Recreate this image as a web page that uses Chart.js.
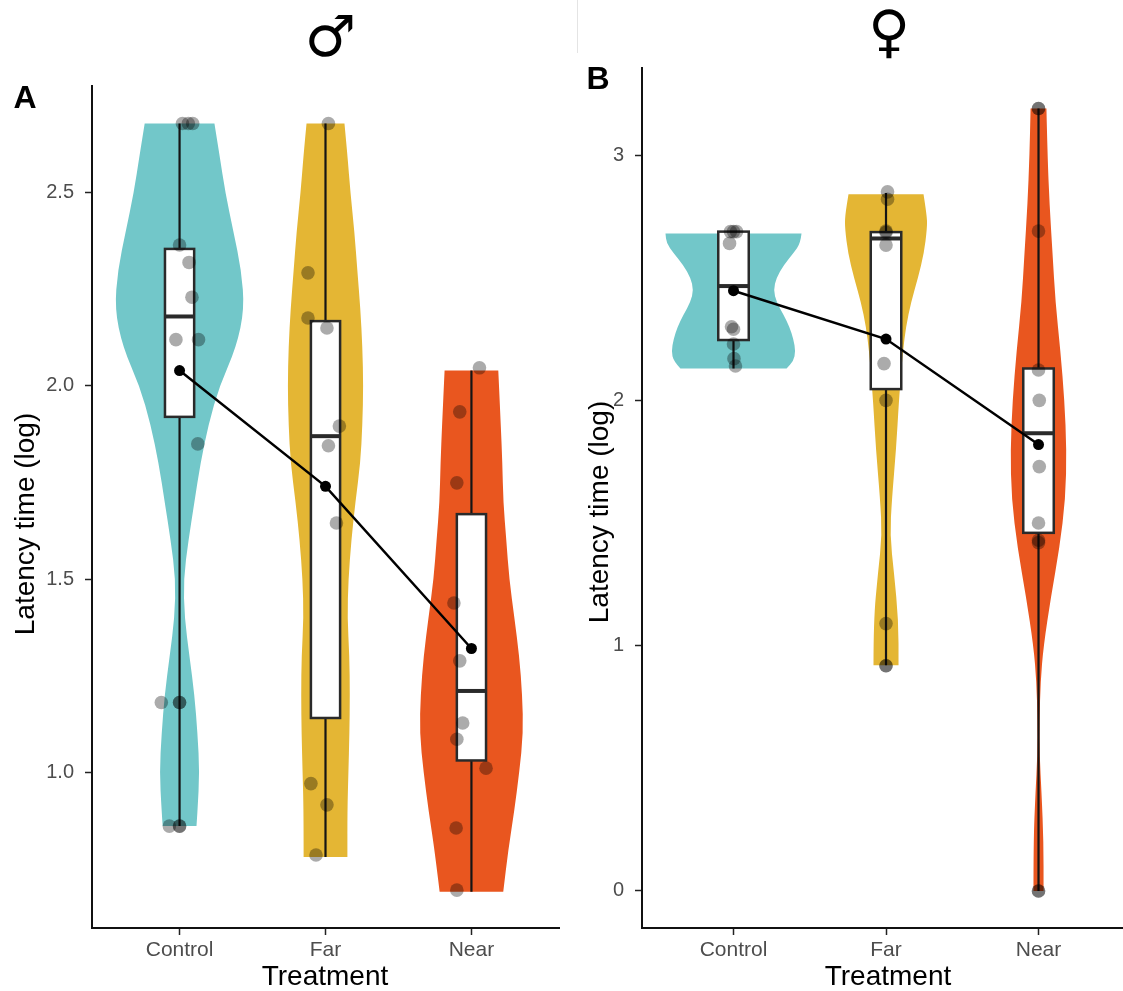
<!DOCTYPE html>
<html>
<head>
<meta charset="utf-8">
<script src="https://cdn.jsdelivr.net/npm/chart.js@4.4.0/dist/chart.umd.min.js"></script>
<style>
  html, body { margin: 0; padding: 0; background: #fff; overflow: hidden; }
  #wrap { position: relative; width: 1123px; height: 991px; }
  .panel { position: absolute; top: 0; height: 991px; }
  #sep { position: absolute; left: 577px; top: 0; width: 1px; height: 53px; background: #e4e4e4; }
</style>
</head>
<body>
<div id="wrap">
  <div class="panel" style="left:0;width:577px"><canvas id="cvMale" width="577" height="991"></canvas></div>
  <div class="panel" style="left:577px;width:546px"><canvas id="cvFemale" width="546" height="991"></canvas></div>
  <div id="sep"></div>
</div>
<script>
const categories = ['Control', 'Far', 'Near'];
const fillColors = ['#72C7C9', '#E4B634', '#E9561F'];

// ---- panel A (males) ----
const maleTicks = [1.0, 1.5, 2.0, 2.5];
const maleRange = [0.596, 2.777];
const maleLow = [0.86, 0.78, 0.69];
const maleQ1 = [1.92, 1.14, 1.03];
const maleMedian = [2.18, 1.87, 1.21];
const maleQ3 = [2.355, 2.168, 1.668];
const maleHigh = [2.68, 2.68, 2.04];
const maleMeans = [2.04, 1.74, 1.32];
// [jitter, value]
const maleControlPts = [[0.02, 2.68], [0.06, 2.68], [0.09, 2.68], [0, 2.365], [0.065, 2.32], [0.085, 2.23], [-0.025, 2.12], [0.13, 2.12], [0.125, 1.85], [-0.125, 1.18], [0, 1.18], [0, 1.18], [-0.07, 0.86], [0, 0.86], [0, 0.86]];
const maleFarPts = [[0.02, 2.68], [-0.12, 2.293], [-0.12, 2.176], [0.01, 2.15], [0.095, 1.896], [0.02, 1.845], [0.075, 1.645], [-0.10, 0.97], [0.01, 0.915], [-0.065, 0.785]];
const maleNearPts = [[0.055, 2.047], [-0.08, 1.933], [-0.10, 1.749], [-0.12, 1.438], [-0.08, 1.288], [-0.06, 1.127], [-0.10, 1.085], [0.10, 1.01], [-0.105, 0.855], [-0.10, 0.694]];
// violin outline: [value, half width in category units]
const maleControlViolin = [[2.68, .239], [2.6, .273], [2.5, .314], [2.4, .369], [2.3, .423], [2.2, .444], [2.1, .389], [2.0, .273], [1.9, .198], [1.8, .143], [1.7, .102], [1.6, .061], [1.5, .027], [1.4, .034], [1.3, .068], [1.2, .102], [1.1, .123], [1.0, .137], [0.9, .123], [0.86, .116]];
const maleFarViolin = [[2.68, .130], [2.6, .150], [2.5, .171], [2.4, .198], [2.3, .218], [2.2, .239], [2.1, .253], [2.0, .259], [1.9, .253], [1.8, .239], [1.7, .205], [1.6, .177], [1.5, .157], [1.4, .150], [1.3, .164], [1.2, .167], [1.1, .164], [1.0, .157], [0.9, .150], [0.78, .150]];
const maleNearViolin = [[2.04, .184], [1.9, .201], [1.8, .212], [1.7, .218], [1.6, .239], [1.5, .259], [1.4, .294], [1.3, .328], [1.2, .348], [1.1, .355], [1.0, .328], [0.9, .294], [0.8, .253], [0.69, .218]];

// ---- panel B (females) ----
const femaleTicks = [0, 1, 2, 3];
const femaleRange = [-0.151, 3.355];
const femaleLow = [2.13, 0.92, 0.0];
const femaleQ1 = [2.246, 2.046, 1.46];
const femaleMedian = [2.466, 2.66, 1.866];
const femaleQ3 = [2.688, 2.686, 2.13];
const femaleHigh = [2.688, 2.845, 3.19];
const femaleMeans = [2.447, 2.25, 1.82];
const femaleControlPts = [[-0.02, 2.688], [0, 2.688], [0.02, 2.688], [-0.026, 2.64], [-0.013, 2.30], [0, 2.29], [0, 2.23], [0.003, 2.17], [0.013, 2.14]];
const femaleFarPts = [[0.01, 2.85], [0.01, 2.82], [0, 2.69], [0, 2.685], [0, 2.633], [-0.013, 2.15], [0, 2.0], [0, 1.09], [0, 0.918], [0, 0.918]];
const femaleNearPts = [[0, 3.19], [0, 3.19], [0, 2.69], [0, 2.124], [0.005, 2.0], [0.005, 1.73], [0, 1.50], [0, 1.43], [0, 1.42], [0, 0.0], [0, 0.0]];
const femaleControlViolin = [[2.68, .446], [2.64, .439], [2.6, .393], [2.55, .328], [2.5, .282], [2.45, .262], [2.4, .282], [2.35, .328], [2.3, .367], [2.25, .393], [2.2, .407], [2.16, .393], [2.13, .348]];
const femaleFarViolin = [[2.84, .246], [2.75, .269], [2.7, .269], [2.6, .249], [2.5, .210], [2.4, .164], [2.3, .131], [2.2, .111], [2.1, .098], [2.0, .085], [1.8, .066], [1.6, .039], [1.45, .026], [1.3, .052], [1.1, .082], [0.92, .082]];
const femaleNearViolin = [[3.19, .052], [3.0, .059], [2.8, .072], [2.6, .092], [2.4, .111], [2.2, .144], [2.0, .170], [1.8, .184], [1.6, .177], [1.4, .138], [1.2, .082], [1.0, .033], [0.85, .013], [0.7, .007], [0.55, .007], [0.4, .020], [0.2, .033], [0.0, .033]];

const FONT = '"Liberation Sans", Arial, Helvetica, sans-serif';
Chart.defaults.font.family = FONT;

function smoothSide(ctx, pts) {
  ctx.lineTo(pts[0].x, pts[0].y);
  for (let i = 1; i < pts.length - 1; i++) {
    const mx = (pts[i].x + pts[i + 1].x) / 2, my = (pts[i].y + pts[i + 1].y) / 2;
    ctx.quadraticCurveTo(pts[i].x, pts[i].y, mx, my);
  }
  ctx.lineTo(pts[pts.length - 1].x, pts[pts.length - 1].y);
}

function drawViolin(ctx, xs, ys, cx, profile, color) {
  const right = profile.map(p => ({ x: xs.getPixelForValue(cx + p[1]), y: ys.getPixelForValue(p[0]) }));
  const left = profile.slice().reverse().map(p => ({ x: xs.getPixelForValue(cx - p[1]), y: ys.getPixelForValue(p[0]) }));
  ctx.beginPath();
  ctx.moveTo(left[left.length - 1].x, left[left.length - 1].y);
  smoothSide(ctx, right);
  smoothSide(ctx, left);
  ctx.closePath();
  ctx.fillStyle = color;
  ctx.fill();
}

function drawBox(ctx, xs, ys, cx, lo, q1, med, q3, hi) {
  const xc = xs.getPixelForValue(cx);
  const xl = xs.getPixelForValue(cx - 0.1), xr = xs.getPixelForValue(cx + 0.1);
  ctx.strokeStyle = '#151515';
  ctx.lineWidth = 2.2;
  ctx.beginPath();
  ctx.moveTo(xc, ys.getPixelForValue(hi)); ctx.lineTo(xc, ys.getPixelForValue(q3));
  ctx.moveTo(xc, ys.getPixelForValue(q1)); ctx.lineTo(xc, ys.getPixelForValue(lo));
  ctx.stroke();
  const yt = ys.getPixelForValue(q3), yb = ys.getPixelForValue(q1);
  ctx.fillStyle = '#fff';
  ctx.fillRect(xl, yt, xr - xl, yb - yt);
  ctx.strokeStyle = '#2a2a2a';
  ctx.lineWidth = 2.5;
  ctx.strokeRect(xl, yt, xr - xl, yb - yt);
  ctx.lineWidth = 4;
  ctx.beginPath();
  const ym = ys.getPixelForValue(med);
  ctx.moveTo(xl, ym); ctx.lineTo(xr, ym);
  ctx.stroke();
}

function makePanel(canvasId, opt) {
  const points = [];
  opt.pts.forEach((grp, i) => grp.forEach(p => points.push({ x: i + 1 + p[0], y: p[1] })));
  const meanLine = opt.means.map((m, i) => ({ x: i + 1, y: m }));

  const extras = {
    id: 'extras_' + canvasId,
    beforeDatasetsDraw(chart) {
      const ctx = chart.ctx, xs = chart.scales.x, ys = chart.scales.y;
      ctx.save();
      opt.violins.forEach((v, i) => drawViolin(ctx, xs, ys, i + 1, v, fillColors[i]));
      categories.forEach((c, i) => drawBox(ctx, xs, ys, i + 1, opt.low[i], opt.q1[i], opt.med[i], opt.q3[i], opt.high[i]));
      ctx.restore();
    },
    afterDraw(chart) {
      const ctx = chart.ctx;
      ctx.save();
      ctx.fillStyle = '#000';
      ctx.textAlign = 'center';
      ctx.textBaseline = 'middle';
      ctx.font = '28px ' + FONT;
      ctx.fillText('Treatment', opt.xTitleX, 977);
      ctx.save();
      ctx.translate(opt.yTitle[0], opt.yTitle[1]);
      ctx.rotate(-Math.PI / 2);
      ctx.fillText('Latency time (log)', 0, 0);
      ctx.restore();
      ctx.font = 'bold 32px ' + FONT;
      ctx.fillText(opt.letter, opt.letterPos[0], opt.letterPos[1]);
      ctx.font = '57px "DejaVu Sans", sans-serif';
      ctx.fillText(opt.symbol, opt.symbolPos[0], opt.symbolPos[1]);
      ctx.restore();
    }
  };

  return new Chart(document.getElementById(canvasId), {
    type: 'scatter',
    data: {
      datasets: [{
        type: 'line',
        data: meanLine,
        borderColor: '#000',
        borderWidth: 2.5,
        pointRadius: 5.5,
        pointBackgroundColor: '#000',
        pointBorderWidth: 0,
        order: 1
      }, {
        data: points,
        pointRadius: 6.8,
        pointBackgroundColor: 'rgba(0,0,0,0.33)',
        pointBorderWidth: 0,
        order: 2
      }]
    },
    options: {
      responsive: false,
      animation: false,
      events: [],
      layout: { autoPadding: false, padding: { left: 0, right: opt.padRight, top: opt.padTop, bottom: 0 } },
      plugins: { legend: { display: false }, tooltip: { enabled: false } },
      scales: {
        x: {
          type: 'linear',
          min: 0.4,
          max: opt.xMax,
          afterBuildTicks: s => { s.ticks = categories.map((c, i) => ({ value: i + 1 })); },
          afterFit: s => { s.height = 63; s.paddingLeft = 0; s.paddingRight = 0; },
          ticks: {
            callback: v => categories[v - 1],
            color: '#4d4d4d',
            font: { size: 21 },
            padding: 3,
            maxRotation: 0,
            autoSkip: false
          },
          grid: { drawOnChartArea: false, drawTicks: true, tickLength: 7, tickColor: '#222', tickWidth: 1.5 },
          border: { display: true, color: '#111', width: 2 }
        },
        y: {
          min: opt.range[0],
          max: opt.range[1],
          afterBuildTicks: s => { s.ticks = opt.ticks.map(t => ({ value: t })); },
          afterFit: s => { s.width = opt.yWidth; s.paddingTop = 0; s.paddingBottom = 0; },
          ticks: {
            callback: v => opt.fmt(v),
            color: '#4d4d4d',
            font: { size: 20 },
            padding: 11
          },
          grid: { drawOnChartArea: false, drawTicks: true, tickLength: 7, tickColor: '#222', tickWidth: 1.5 },
          border: { display: true, color: '#111', width: 2 }
        }
      }
    },
    plugins: [extras]
  });
}

makePanel('cvMale', {
  pts: [maleControlPts, maleFarPts, maleNearPts],
  means: maleMeans,
  violins: [maleControlViolin, maleFarViolin, maleNearViolin],
  low: maleLow, q1: maleQ1, med: maleMedian, q3: maleQ3, high: maleHigh,
  ticks: maleTicks, range: maleRange, fmt: v => v.toFixed(1),
  xMax: 3.6, yWidth: 92, padTop: 86, padRight: 18,
  xTitleX: 325, yTitle: [26, 524], letter: 'A', letterPos: [25, 99], symbol: '\u2642', symbolPos: [330, 41]
});

makePanel('cvFemale', {
  pts: [femaleControlPts, femaleFarPts, femaleNearPts],
  means: femaleMeans,
  violins: [femaleControlViolin, femaleFarViolin, femaleNearViolin],
  low: femaleLow, q1: femaleQ1, med: femaleMedian, q3: femaleQ3, high: femaleHigh,
  ticks: femaleTicks, range: femaleRange, fmt: v => String(v),
  xMax: 3.554, yWidth: 65, padTop: 68, padRight: 0,
  xTitleX: 311,
  yTitle: [23, 512], letter: 'B', letterPos: [21, 80], symbol: '\u2640', symbolPos: [312, 36]
});
</script>
</body>
</html>
